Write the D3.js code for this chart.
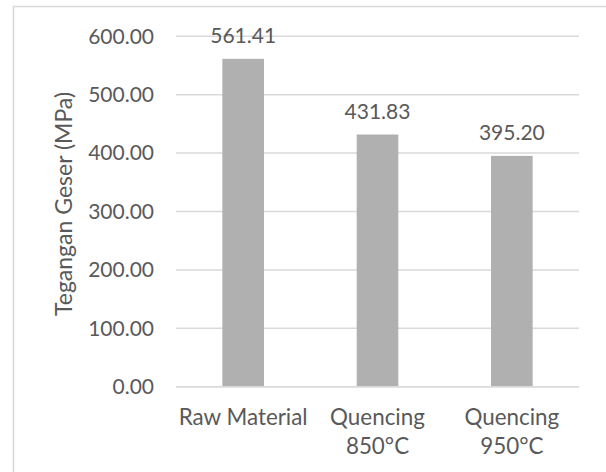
<!DOCTYPE html>
<html>
<head>
<meta charset="utf-8">
<script src="https://cdn.jsdelivr.net/npm/d3@7"></script>
<style>
  html, body { margin: 0; padding: 0; background: #fff; }
  svg { display: block; }
  text { font-family: Lato, "Open Sans", sans-serif; fill: #595959; }
</style>
</head>
<body>
<svg id="chart" width="606" height="472"></svg>
<script>
// Shear stress per treatment
const categories = [["Raw Material"], ["Quencing", "850°C"], ["Quencing", "950°C"]];
const values = [561.41, 431.83, 395.20];
const yTicks = [0, 100, 200, 300, 400, 500, 600];
const yTitle = "Tegangan Geser (MPa)";

const W = 606, H = 472;
const plot = { left: 176, right: 579, top: 36.3, bottom: 386.7 };

const svg = d3.select("#chart");

// chart frame
svg.append("rect")
  .attr("x", 13.5).attr("y", 6.5)
  .attr("width", W).attr("height", H)
  .attr("fill", "#fff").attr("stroke", "#d9d9d9").attr("stroke-width", 1.5);

const keys = categories.map(c => c.join(" "));
const x = d3.scaleBand()
  .domain(keys)
  .range([plot.left, plot.right])
  .paddingInner(0.69)
  .paddingOuter(0.345);

const y = d3.scaleLinear()
  .domain([0, 600])
  .range([plot.bottom, plot.top]);

// horizontal gridlines
svg.append("g")
  .selectAll("line")
  .data(yTicks)
  .join("line")
  .attr("x1", plot.left).attr("x2", plot.right)
  .attr("y1", d => y(d)).attr("y2", d => y(d))
  .attr("stroke", "#d9d9d9").attr("stroke-width", 1.5);

// y tick labels
svg.append("g")
  .selectAll("text")
  .data(yTicks)
  .join("text")
  .attr("x", 154)
  .attr("y", d => y(d))
  .attr("dy", "0.35em")
  .attr("text-anchor", "end")
  .style("font-size", "21px")
  .text(d => d3.format(".2f")(d));

// bars
svg.append("g")
  .selectAll("rect")
  .data(values)
  .join("rect")
  .attr("x", (d, i) => x(keys[i]))
  .attr("width", x.bandwidth())
  .attr("y", d => y(d))
  .attr("height", d => y(0) - y(d))
  .attr("fill", "#b0b0b0");

// redraw baseline over bars
svg.append("line")
  .attr("x1", plot.left).attr("x2", plot.right)
  .attr("y1", y(0)).attr("y2", y(0))
  .attr("stroke", "#d9d9d9").attr("stroke-width", 1.5);

// value labels
svg.append("g")
  .selectAll("text")
  .data(values)
  .join("text")
  .attr("x", (d, i) => x(keys[i]) + x.bandwidth() / 2)
  .attr("y", d => y(d) - 16)
  .attr("text-anchor", "middle")
  .style("font-size", "21px")
  .text(d => d3.format(".2f")(d));

// category labels
const catG = svg.append("g")
  .selectAll("text")
  .data(categories)
  .join("text")
  .attr("x", (d, i) => x(keys[i]) + x.bandwidth() / 2)
  .attr("y", 425)
  .attr("text-anchor", "middle")
  .style("font-size", "22.4px");
catG.selectAll("tspan")
  .data(d => d)
  .join("tspan")
  .attr("x", function () { return d3.select(this.parentNode).attr("x"); })
  .attr("dy", (d, i) => i === 0 ? 0 : 29)
  .text(d => d);

// y axis title
svg.append("text")
  .attr("transform", "translate(72,204) rotate(-90)")
  .attr("text-anchor", "middle")
  .style("font-size", "23px")
  .text(yTitle);
</script>
</body>
</html>
